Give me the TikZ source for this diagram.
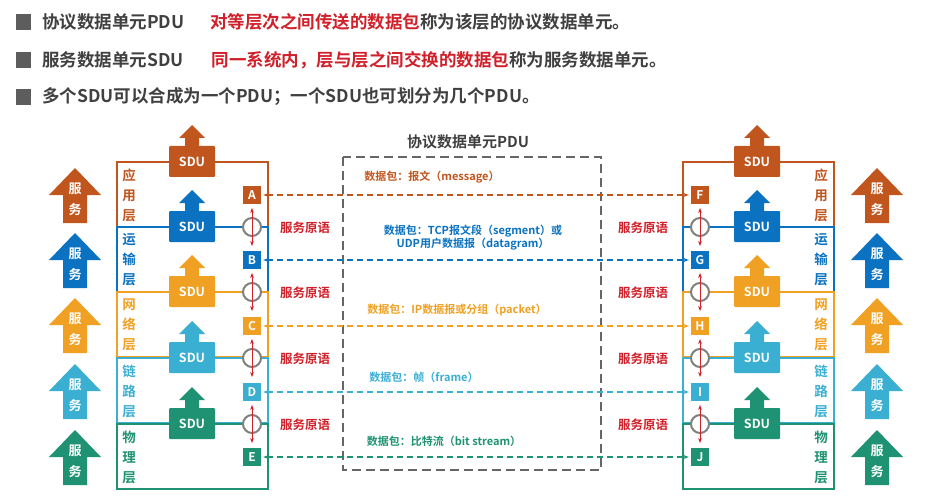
\documentclass[tikz,border=0pt]{standalone}
\usepackage{fontspec}
\setmainfont{Noto Sans CJK SC}[BoldFont={Noto Sans CJK SC Bold}]
\usetikzlibrary{arrows.meta}
\definecolor{cA}{HTML}{C0561E}
\definecolor{cB}{HTML}{0A72C0}
\definecolor{cC}{HTML}{F0A022}
\definecolor{cD}{HTML}{3AAFD2}
\definecolor{cE}{HTML}{1E9272}
\definecolor{rd}{HTML}{D0202A}
\definecolor{tx}{HTML}{404040}
\tikzset{
 lbox/.style={draw=#1,line width=1.4pt,fill=white},
 letter/.style={fill=#1,text=white,font=\bfseries\fontsize{12}{12}\selectfont,minimum width=18pt,minimum height=18pt,inner sep=0pt},
 pdu/.style={#1,dashed,line width=1.4pt,dash pattern=on 6pt off 4pt,{Stealth[length=6pt]}-{Stealth[length=6pt]}},
 prim/.style={text=rd,font=\bfseries\fontsize{12.5}{12}\selectfont},
 pl/.style={text=#1,font=\bfseries\fontsize{11}{13}\selectfont,align=center},
 head/.style={text=tx,font=\bfseries\fontsize{17.5}{18}\selectfont,anchor=west,inner sep=0pt},
}
\newcommand{\servarrow}[3]{% x y color
 \fill[#3] (#1-12,#2+28) -- (#1-12,#2) -- (#1-26,#2) -- (#1,#2-27) -- (#1+26,#2) -- (#1+12,#2) -- (#1+12,#2+28) -- cycle;
 \node[text=white,font=\bfseries\fontsize{13}{13}\selectfont,inner sep=0pt] at (#1,#2-6) {服};
 \node[text=white,font=\bfseries\fontsize{13}{13}\selectfont,inner sep=0pt] at (#1,#2+15) {务};}
\newcommand{\sdu}[3]{% x yb color
 \fill[#3] (#1-7,#2-14) -- (#1-7,#2-24) -- (#1-13,#2-24) -- (#1,#2-37) -- (#1+13,#2-24) -- (#1+7,#2-24) -- (#1+7,#2-14) -- cycle;
 \fill[#3,rounded corners=1pt] (#1-23,#2-16) rectangle (#1+23,#2+15);
 \node[text=white,font=\bfseries\fontsize{12.5}{12}\selectfont] at (#1,#2) {SDU};}
\begin{document}
\begin{tikzpicture}[x=1pt,y=-1pt]
\useasboundingbox (0,0) rectangle (932,500);
% header
\foreach \yy in {22,60,97} \fill[tx!85] (16,\yy-8) rectangle (31,\yy+8);
\node[head] at (42,22) {协议数据单元PDU\hspace{26pt}\textcolor{rd}{对等层次之间传送的数据包}称为该层的协议数据单元。};
\node[head] at (42,60) {服务数据单元SDU\hspace{28pt}\textcolor{rd}{同一系统内，层与层之间交换的数据包}称为服务数据单元。};
\node[head] at (42,97) {多个SDU可以合成为一个PDU；一个SDU也可划分为几个PDU。};
% PDU box
\draw[tx!80,line width=1.6pt,dash pattern=on 9pt off 5pt] (343,157) rectangle (601,470);
\node[text=tx,font=\bfseries\fontsize{15}{15}\selectfont] at (468,142) {协议数据单元PDU};
% stacks
\foreach \side/\bx/\lx/\sx/\nx/\ax/\px in {L/117/252/192/129/75/305, R/683/700/757/821/877/643}{
 \foreach \c/\top/\nm [count=\i] in {cA/162/{应\\用\\层}, cB/227/{运\\输\\层}, cC/292/{网\\络\\层}, cD/358/{链\\路\\层}, cE/424/{物\\理\\层}}{
  \draw[lbox=\c] (\bx,\top) rectangle (\bx+151,\top+65);
  \node[text=\c,font=\bfseries\fontsize{13.5}{20}\selectfont,align=center,inner sep=0pt] at (\nx,\top+33) {\nm};
  \servarrow{\ax}{\top+33}{\c}
 }
 \foreach \c/\yb in {cA/162,cB/227,cC/292,cD/358,cE/424}{\sdu{\sx}{\yb}{\c}}
 \foreach \yb in {227,292,358,424}{
  \draw[gray,line width=2pt,fill=white] (\lx,\yb) circle (9);
  \draw[rd,line width=1pt,{Stealth[length=5pt]}-{Stealth[length=5pt]}] (\lx,\yb-19) -- (\lx,\yb+19);
  \node[prim] at (\px,\yb+1) {服务原语};
 }
}
\foreach \c/\y/\a/\b in {cA/195/A/F,cB/260/B/G,cC/326/C/H,cD/392/D/I,cE/457/E/J}{
 \node[letter=\c] (\a) at (252,\y) {\a};
 \node[letter=\c] (\b) at (700,\y) {\b};
 \draw[pdu=\c] (\a.east) ++(2,0) -- ([xshift=-2pt]\b.west);
}
\node[pl=cA,fill=white,inner sep=1pt] at (432,177) {数据包：报文（message）};
\node[pl=cB,fill=white,inner sep=1pt] at (473,238) {数据包：TCP报文段（segment）或\\UDP用户数据报（datagram）};
\node[pl=cC,fill=white,inner sep=1pt] at (457,310) {数据包：IP数据报或分组（packet）};
\node[pl=cD,fill=white,inner sep=1pt] at (424,377) {数据包：帧（frame）};
\node[pl=cE,fill=white,inner sep=1pt] at (444,441) {数据包：比特流（bit stream）};
\end{tikzpicture}
\end{document}
